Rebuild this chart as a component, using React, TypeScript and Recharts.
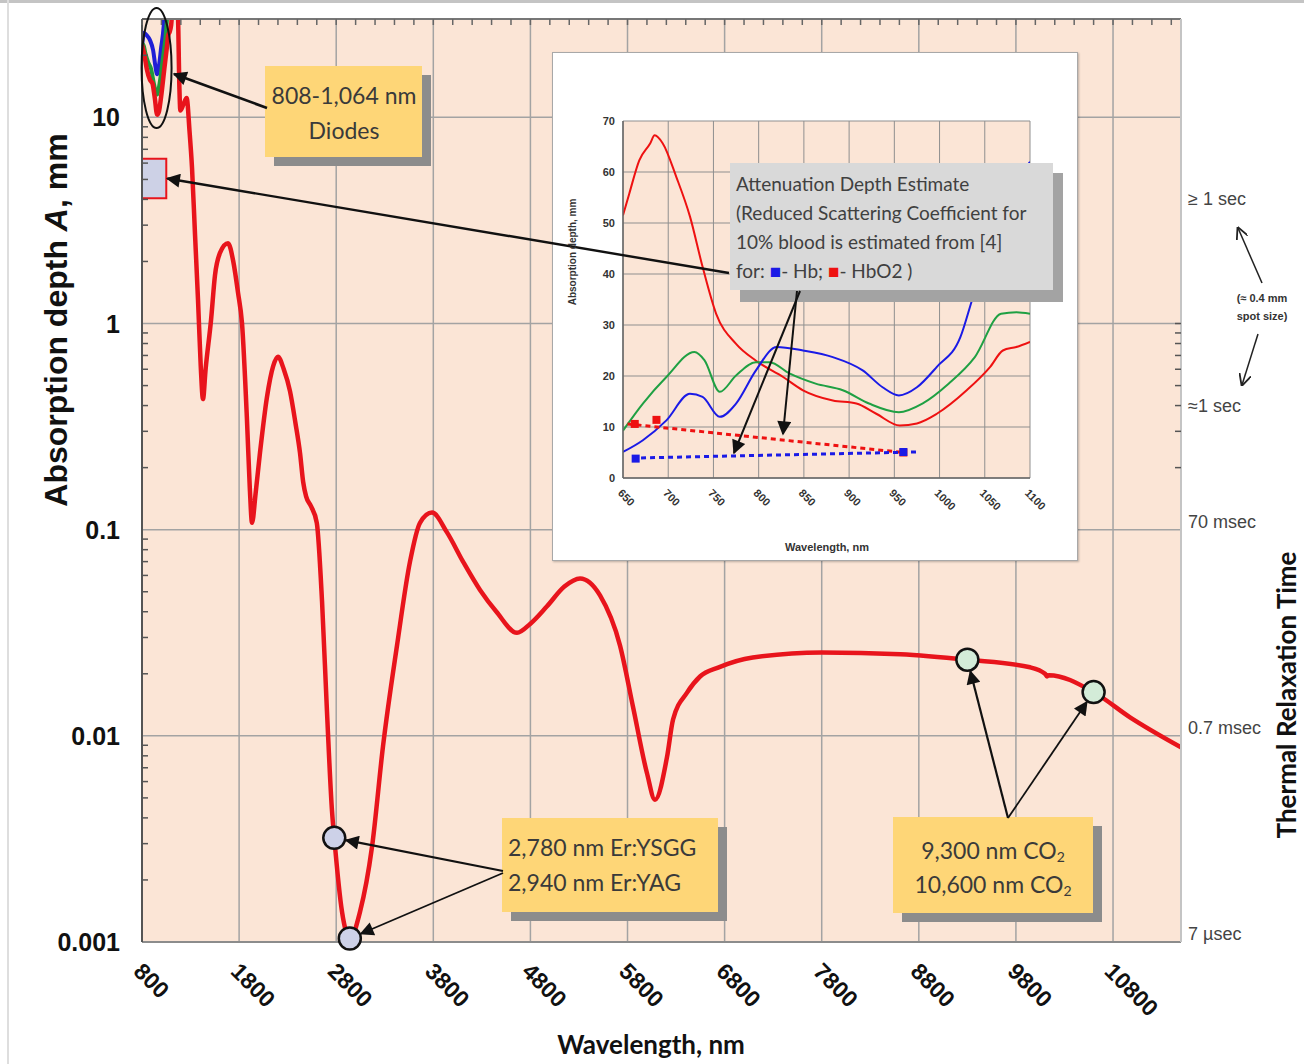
import React from "react";
import {
  ComposedChart,
  Line,
  Scatter,
  XAxis,
  YAxis,
  CartesianGrid,
  ReferenceDot,
  ReferenceArea,
  ReferenceLine,
} from "recharts";

// main curve: absorption depth (mm) against wavelength (nm)
const MAIN_NM = [
  800, 827, 849, 882, 908, 930, 956, 975, 997, 1030, 1056, 1070, 1085, 1100, 1125, 1150, 1170, 1185,
  1195, 1225, 1260, 1290, 1315, 1346, 1377, 1405, 1428, 1455, 1511, 1552, 1603, 1686, 1740, 1789,
  1830, 1880, 1910, 1933, 1970, 2015, 2087, 2150, 2200, 2260, 2324, 2380, 2427, 2460, 2490, 2540,
  2600, 2654, 2705, 2757, 2780, 2860, 2942, 3045, 3169, 3282, 3426, 3560, 3663, 3787, 3941, 4106,
  4281, 4450, 4662, 4800, 4971, 5150, 5311, 5517, 5723, 5857, 6000, 6083, 6207, 6269, 6413, 6547,
  6740, 7090, 7800, 8610, 9300, 9945, 10100, 10120, 10140, 10600, 10975, 11500,
];
const MAIN_MM = [
  22.5, 19.8, 17.2, 15.2, 14.6, 12.6, 10.3, 10.7, 12.6, 17.2, 21.8, 25, 26, 28, 40, 42, 32, 14,
  10.8, 11.5, 12.4, 8.5, 5.7, 2.7, 1.3, 0.62, 0.43, 0.6, 1.04, 1.72, 2.2, 2.45, 2.0, 1.41,
  1.0, 0.35, 0.16, 0.108, 0.15, 0.236, 0.44, 0.62, 0.69, 0.6, 0.47, 0.33, 0.236, 0.17, 0.145, 0.13,
  0.108, 0.045, 0.0131, 0.0043, 0.0032, 0.0014, 0.00104, 0.0014, 0.0029, 0.0089, 0.0274, 0.07, 0.108, 0.121, 0.097, 0.07,
  0.051, 0.04, 0.0316, 0.035, 0.0425, 0.053, 0.058, 0.048, 0.0274, 0.0138, 0.0066, 0.0049, 0.0079, 0.012, 0.0162, 0.0194,
  0.0215, 0.024, 0.0254, 0.0249, 0.0234, 0.0215, 0.02, 0.0194, 0.0197, 0.0163, 0.0123, 0.0088,
];

// inset curves (650-1100 nm)
const RED_NM = [650, 657, 668, 680, 685, 694, 709, 724, 738, 753, 775, 797, 827, 849, 882, 908, 930, 956, 975, 997, 1030, 1056, 1070, 1085, 1100];
const RED_MM = [51.5, 55.8, 62.3, 65.6, 67.2, 65.6, 59, 51.3, 41.4, 32.2, 26.3, 23, 19.8, 17.2, 15.2, 14.6, 12.6, 10.3, 10.7, 12.6, 17.2, 21.8, 25, 25.7, 26.7];
const GREEN_NM = [650, 672, 698, 729, 740, 757, 775, 797, 812, 834, 863, 893, 922, 955, 981, 1010, 1039, 1068, 1085, 1100];
const GREEN_MM = [9.3, 14.6, 19.8, 24.7, 23.1, 16.9, 20.1, 22.7, 22.7, 20.5, 18.5, 17.2, 14.6, 12.9, 14.6, 18.5, 23.7, 32.2, 32.5, 32.2];
const BLUE_NM = [650, 672, 698, 724, 738, 757, 775, 797, 820, 849, 882, 915, 937, 955, 975, 997, 1023, 1037, 1055, 1075, 1100];
const BLUE_MM = [5.1, 7.4, 11.3, 16.5, 15.9, 12, 14.6, 21.1, 25.7, 25, 23.7, 21.1, 17.8, 16.2, 17.8, 21.8, 27.6, 35.5, 45, 55, 62];

// attenuation depth estimates (dashed) and their markers
const HBO2_EST_NM = [655, 960];
const HBO2_EST_MM = [10.6, 5.0];
const HB_EST_NM = [660, 975];
const HB_EST_MM = [3.9, 5.1];
const HBO2_MARK_NM = [663, 687, 960];
const HBO2_MARK_MM = [10.6, 11.4, 5.0];
const HB_MARK_NM = [664, 960];
const HB_MARK_MM = [3.8, 5.1];

// laser lines marked on the main curve
const ER_NM = [2780, 2940];
const ER_MM = [0.0032, 0.00104];
const CO2_NM = [9300, 10600];
const CO2_MM = [0.0234, 0.0163];

// attenuation depth range box
const ATTEN_NM = [800, 1050];
const ATTEN_MM = [4.05, 6.3];

const X_TICKS = [800, 1800, 2800, 3800, 4800, 5800, 6800, 7800, 8800, 9800, 10800];
const Y_DECADES = [0.001, 0.01, 0.1, 1, 10];
const Y_LABELS = ["0.001", "0.01", "0.1", "1", "10"];
const RIGHT_TICKS = [4, 0.4, 0.1, 0.01, 0.001];
const RIGHT_LABELS = ["\u2265 1 sec", "\u22481 sec", "70 msec", "0.7 msec", "7 \u00b5sec"];
const RIGHT_MINOR = [0.2, 0.3, 0.4, 0.5, 0.6, 0.7, 0.8, 0.9, 1];

const INSET_X_TICKS = [650, 700, 750, 800, 850, 900, 950, 1000, 1050, 1100];
const INSET_Y_TICKS = [0, 10, 20, 30, 40, 50, 60, 70];

const Y_MINOR = Y_DECADES.flatMap((d) => [2, 3, 4, 5, 6, 7, 8, 9].map((k) => k * d)).filter((v) => v <= 30);
const TOP_MINOR = Array.from({ length: 54 }, (_, i) => 800 + i * 200);

const zip = (xs: number[], ys: number[]) => xs.map((x, i) => ({ x, y: ys[i] }));

const mainData = zip(MAIN_NM, MAIN_MM);
const redData = zip(RED_NM, RED_MM);
const greenData = zip(GREEN_NM, GREEN_MM);
const blueData = zip(BLUE_NM, BLUE_MM);

// main plot geometry
const W = 1304;
const H = 1064;
const P_LEFT = 142;
const P_RIGHT = 1181;
const P_TOP = 19;
const P_BOTTOM = 942;
const X_DOM = [800, 11500];
const Y_DOM = [0.001, 30];

const sx = (v: number) => P_LEFT + ((v - X_DOM[0]) / (X_DOM[1] - X_DOM[0])) * (P_RIGHT - P_LEFT);
const sy = (v: number) =>
  P_TOP + ((Math.log10(Y_DOM[1]) - Math.log10(v)) / (Math.log10(Y_DOM[1]) - Math.log10(Y_DOM[0]))) * (P_BOTTOM - P_TOP);

const PEACH = "#fbe5d6";
const RED = "#e8141c";
const BOLD_SANS = "'Liberation Sans', Arial, sans-serif";
const NOTE_FONT = "Lato, 'Open Sans', sans-serif";

const near = (a: number, b: number) => Math.abs(a - b) / b < 1e-6;
const isDecade = (v: number) => Math.abs(Math.log10(v) - Math.round(Math.log10(v))) < 1e-6;

const LeftTick = (props: any) => {
  const { x, y, payload } = props;
  const v = payload.value;
  const idx = Y_DECADES.findIndex((d) => near(v, d));
  return (
    <g>
      <line x1={x} x2={x + (isDecade(v) ? 0 : 6)} y1={y} y2={y} stroke="#555" strokeWidth={1.5} />
      {idx >= 0 && (
        <text x={x - 22} y={y} textAnchor="end" dominantBaseline="central" fontFamily={BOLD_SANS} fontWeight={700} fontSize={25} fill="#111">
          {Y_LABELS[idx]}
        </text>
      )}
    </g>
  );
};

const BottomTick = (props: any) => {
  const { x, y, payload } = props;
  return (
    <text transform={`translate(${x - 4},${y + 25}) rotate(45)`} textAnchor="start" dominantBaseline="central" fontFamily={BOLD_SANS} fontWeight={700} fontSize={23} fill="#111">
      {payload.value}
    </text>
  );
};

const TopTick = (props: any) => {
  const { x, y } = props;
  return <line x1={x} x2={x} y1={y} y2={y + 6} stroke="#666" strokeWidth={1.5} />;
};

const RightTick = (props: any) => {
  const { x, y, payload } = props;
  const v = payload.value;
  const idx = RIGHT_TICKS.findIndex((d) => near(v, d));
  const isMinor = RIGHT_MINOR.some((d) => near(v, d));
  const dy = v < 0.2 ? -8 : 0;
  return (
    <g>
      {isMinor && <line x1={x} x2={x - 6} y1={y} y2={y} stroke="#555" strokeWidth={1.5} />}
      {idx >= 0 && (
        <text x={x + 7} y={y + dy} textAnchor="start" dominantBaseline="central" fontFamily={BOLD_SANS} fontSize={18} fill="#444">
          {RIGHT_LABELS[idx]}
        </text>
      )}
    </g>
  );
};

const InsetXTick = (props: any) => {
  const { x, y, payload } = props;
  return (
    <text transform={`translate(${x - 3},${y + 13}) rotate(45)`} textAnchor="start" dominantBaseline="central" fontFamily={BOLD_SANS} fontWeight={700} fontSize={11} fill="#333">
      {payload.value}
    </text>
  );
};

const InsetYTick = (props: any) => {
  const { x, y, payload } = props;
  return (
    <text x={x - 8} y={y} textAnchor="end" dominantBaseline="central" fontFamily={BOLD_SANS} fontWeight={700} fontSize={11} fill="#333">
      {payload.value}
    </text>
  );
};

// arrow ending on the rim of a circle of radius r
const towards = (x0: number, y0: number, cx: number, cy: number, r: number) => {
  const dx = cx - x0;
  const dy = cy - y0;
  const len = Math.hypot(dx, dy);
  return { x: cx - (dx / len) * r, y: cy - (dy / len) * r };
};

const NoteBox = ({ x, y, w, h, children }: { x: number; y: number; w: number; h: number; children: React.ReactNode }) => (
  <g>
    <rect x={x + 9} y={y + 9} width={w} height={h} fill="#8c8c8c" />
    <rect x={x} y={y} width={w} height={h} fill="#fed677" />
    {children}
  </g>
);

const Arrow = ({ x1, y1, x2, y2, w = 2.2 }: { x1: number; y1: number; x2: number; y2: number; w?: number }) => (
  <line x1={x1} y1={y1} x2={x2} y2={y2} stroke="#111" strokeWidth={w} markerEnd="url(#head)" />
);

const Overlay = () => {
  const er1 = towards(503, 871, sx(ER_NM[0]), sy(ER_MM[0]), 12);
  const er2 = towards(503, 873, sx(ER_NM[1]), sy(ER_MM[1]), 12);
  const co1 = towards(1008, 818, sx(CO2_NM[0]), sy(CO2_MM[0]), 12);
  const co2 = towards(1008, 818, sx(CO2_NM[1]), sy(CO2_MM[1]), 12);
  const t = { fontFamily: NOTE_FONT, fontSize: 23, fill: "#3a3a3a" };
  const g = { fontFamily: NOTE_FONT, fontSize: 19, fill: "#404040" };
  return (
    <svg width={W} height={H} style={{ position: "absolute", left: 0, top: 0, pointerEvents: "none" }}>
      <defs>
        <marker id="head" viewBox="0 0 10 10" refX="9" refY="5" markerUnits="userSpaceOnUse" markerWidth="18" markerHeight="14" orient="auto">
          <path d="M0,0 L10,5 L0,10 z" fill="#111" />
        </marker>
        <marker id="open" viewBox="0 0 10 10" refX="9" refY="5" markerUnits="userSpaceOnUse" markerWidth="12" markerHeight="12" orient="auto">
          <path d="M0,0 L10,5 L0,10" fill="none" stroke="#222" strokeWidth={1.5} />
        </marker>
      </defs>

      {/* diode region */}
      <ellipse cx={sx(950)} cy={68} rx={15} ry={60} fill="none" stroke="#111" strokeWidth={2} />
      <NoteBox x={265} y={66} w={157} h={91}>
        <text x={344} y={95} textAnchor="middle" dominantBaseline="central" {...t}>808-1,064 nm</text>
        <text x={344} y={130} textAnchor="middle" dominantBaseline="central" {...t}>Diodes</text>
      </NoteBox>
      <Arrow x1={267} y1={108} x2={174} y2={74} w={2.6} />

      {/* erbium lasers */}
      <NoteBox x={502} y={818} w={216} h={94}>
        <text x={508} y={847} dominantBaseline="central" {...t}>2,780 nm Er:YSGG</text>
        <text x={508} y={882} dominantBaseline="central" {...t}>2,940 nm Er:YAG</text>
      </NoteBox>
      <Arrow x1={503} y1={871} x2={er1.x} y2={er1.y} />
      <Arrow x1={503} y1={873} x2={er2.x} y2={er2.y} w={1.8} />

      {/* CO2 lasers */}
      <NoteBox x={893} y={817} w={200} h={96}>
        <text x={993} y={850} textAnchor="middle" dominantBaseline="central" {...t}>
          9,300 nm CO<tspan fontSize={14} dy={6}>2</tspan>
        </text>
        <text x={993} y={884} textAnchor="middle" dominantBaseline="central" {...t}>
          10,600 nm CO<tspan fontSize={14} dy={6}>2</tspan>
        </text>
      </NoteBox>
      <Arrow x1={1008} y1={818} x2={co1.x} y2={co1.y} />
      <Arrow x1={1008} y1={818} x2={co2.x} y2={co2.y} w={1.8} />

      {/* inset annotation */}
      <rect x={740} y={173} width={323} height={129} fill="#a3a3a3" />
      <rect x={730} y={163} width={323} height={127} fill="#d9d9d9" />
      {[
        "Attenuation Depth Estimate",
        "(Reduced Scattering Coefficient for",
        "10% blood is estimated from [4]",
      ].map((s, i) => (
        <text key={i} x={736} y={183 + i * 29} dominantBaseline="central" {...g}>
          {s}
        </text>
      ))}
      <text x={736} y={270} dominantBaseline="central" {...g}>
        for: <tspan fill="#1a1ae6">{"\u25a0"}</tspan>- Hb; <tspan fill="#ee1111">{"\u25a0"}</tspan>- HbO2 )
      </text>
      <Arrow x1={729} y1={273} x2={sx(ATTEN_NM[1]) + 1} y2={sy(5.05)} w={2.4} />
      <Arrow x1={800} y1={291} x2={734} y2={453} w={2} />
      <Arrow x1={797} y1={291} x2={783} y2={434} w={2} />

      {/* inset axis titles */}
      <text transform="translate(576,252) rotate(-90)" textAnchor="middle" fontFamily={BOLD_SANS} fontWeight={700} fontSize={10} fill="#333">
        Absorption depth, mm
      </text>
      <text x={827} y={551} textAnchor="middle" fontFamily={BOLD_SANS} fontWeight={700} fontSize={11} fill="#333">
        Wavelength, nm
      </text>

      {/* main axis titles */}
      <text transform="translate(67,320) rotate(-90)" textAnchor="middle" fontFamily={BOLD_SANS} fontWeight={700} fontSize={32} fill="#111">
        Absorption depth <tspan fontStyle="italic">A</tspan>, mm
      </text>
      <text x={651} y={1054} textAnchor="middle" fontFamily={NOTE_FONT} fontWeight={700} fontSize={26} fill="#111">
        Wavelength, nm
      </text>
      <text transform="translate(1296,695) rotate(-90)" textAnchor="middle" fontFamily={NOTE_FONT} fontWeight={700} fontSize={26} fill="#111">
        Thermal Relaxation Time
      </text>

      {/* spot size note */}
      <text x={1262} y={298} textAnchor="middle" dominantBaseline="central" fontFamily={BOLD_SANS} fontWeight={700} fontSize={11} fill="#333">
        (≈ 0.4 mm
      </text>
      <text x={1262} y={316} textAnchor="middle" dominantBaseline="central" fontFamily={BOLD_SANS} fontWeight={700} fontSize={11} fill="#333">
        spot size)
      </text>
      <line x1={1262} y1={283} x2={1238} y2={228} stroke="#222" strokeWidth={1.5} markerEnd="url(#open)" />
      <line x1={1258} y1={334} x2={1242} y2={385} stroke="#222" strokeWidth={1.5} markerEnd="url(#open)" />
    </svg>
  );
};

const Inset = () => (
  <div
    style={{
      position: "absolute",
      left: 552,
      top: 52,
      width: 524,
      height: 507,
      border: "1px solid #a8a8a8",
      background: "#fff",
      boxShadow: "1px 1px 2px rgba(0,0,0,0.25)",
    }}
  >
    <ComposedChart width={524} height={507} margin={{ top: 68, right: 47, left: 0, bottom: 0 }}>
      <CartesianGrid stroke="#8f8f8f" strokeWidth={1} fill={PEACH} fillOpacity={1} verticalValues={INSET_X_TICKS} horizontalValues={INSET_Y_TICKS} />
      <XAxis
        dataKey="x"
        type="number"
        domain={[650, 1100]}
        ticks={INSET_X_TICKS}
        interval={0}
        height={82}
        tickLine={false}
        tickSize={0}
        tickMargin={0}
        tick={<InsetXTick />}
        axisLine={{ stroke: "#666", strokeWidth: 1.5 }}
        allowDataOverflow
      />
      <YAxis
        type="number"
        domain={[0, 70]}
        ticks={INSET_Y_TICKS}
        interval={0}
        width={70}
        tickLine={false}
        tickSize={0}
        tickMargin={0}
        tick={<InsetYTick />}
        axisLine={{ stroke: "#666", strokeWidth: 1.5 }}
        allowDataOverflow
      />
      <Line data={redData} dataKey="y" type="monotone" stroke="#ee1111" strokeWidth={2} dot={false} isAnimationActive={false} />
      <Line data={greenData} dataKey="y" type="monotone" stroke="#1fa043" strokeWidth={2} dot={false} isAnimationActive={false} />
      <Line data={blueData} dataKey="y" type="monotone" stroke="#1a1ae6" strokeWidth={2} dot={false} isAnimationActive={false} />
      <Line data={zip(HBO2_EST_NM, HBO2_EST_MM)} dataKey="y" type="linear" stroke="#ee1111" strokeWidth={3} strokeDasharray="5 4" dot={false} isAnimationActive={false} />
      <Line data={zip(HB_EST_NM, HB_EST_MM)} dataKey="y" type="linear" stroke="#1a1ae6" strokeWidth={3} strokeDasharray="5 4" dot={false} isAnimationActive={false} />
      <Scatter data={zip(HBO2_MARK_NM, HBO2_MARK_MM)} dataKey="y" shape="square" fill="#ee1111" isAnimationActive={false} />
      <Scatter data={zip(HB_MARK_NM, HB_MARK_MM)} dataKey="y" shape="square" fill="#1a1ae6" isAnimationActive={false} />
    </ComposedChart>
  </div>
);

export default function App() {
  return (
    <div style={{ position: "absolute", left: 0, top: 0, width: W, height: H, background: "#fff", overflow: "hidden" }}>
      <div style={{ position: "absolute", left: 0, top: 0, width: W, height: 3, background: "#c4c4c4" }} />
      <div style={{ position: "absolute", left: 7, top: 0, width: 2, height: H, background: "#dedede" }} />
      <ComposedChart width={W} height={H} margin={{ top: 0, right: 0, left: 0, bottom: 0 }} style={{ position: "absolute", left: 0, top: 0 }}>
        <CartesianGrid
          xAxisId="b"
          yAxisId="l"
          stroke="#a3a3a3"
          strokeWidth={1.5}
          fill={PEACH}
          fillOpacity={1}
          verticalValues={X_TICKS}
          horizontalValues={Y_DECADES}
        />
        <XAxis
          xAxisId="b"
          dataKey="x"
          type="number"
          domain={X_DOM}
          ticks={X_TICKS}
          interval={0}
          height={H - P_BOTTOM}
          tickLine={false}
          tickSize={0}
          tickMargin={0}
          tick={<BottomTick />}
          axisLine={{ stroke: "#8c8c8c", strokeWidth: 2 }}
          allowDataOverflow
        />
        <XAxis
          xAxisId="t"
          dataKey="x"
          type="number"
          orientation="top"
          domain={X_DOM}
          ticks={TOP_MINOR}
          interval={0}
          height={P_TOP}
          tickLine={false}
          tickSize={0}
          tickMargin={0}
          tick={<TopTick />}
          axisLine={{ stroke: "#777", strokeWidth: 2 }}
          allowDataOverflow
        />
        <YAxis
          yAxisId="l"
          scale="log"
          type="number"
          domain={Y_DOM}
          ticks={[...Y_DECADES, ...Y_MINOR]}
          interval={0}
          width={P_LEFT}
          tickLine={false}
          tickSize={0}
          tickMargin={0}
          tick={<LeftTick />}
          axisLine={{ stroke: "#555", strokeWidth: 2 }}
          allowDataOverflow
        />
        <YAxis
          yAxisId="r"
          orientation="right"
          scale="log"
          type="number"
          domain={Y_DOM}
          ticks={[...RIGHT_TICKS, ...RIGHT_MINOR.filter((v) => v !== 0.4)]}
          interval={0}
          width={W - P_RIGHT}
          tickLine={false}
          tickSize={0}
          tickMargin={0}
          tick={<RightTick />}
          axisLine={{ stroke: "#c4c4c4", strokeWidth: 2 }}
          allowDataOverflow
        />
        <ReferenceLine
          xAxisId="b"
          yAxisId="l"
          segment={[
            { x: X_DOM[1], y: 1 },
            { x: X_DOM[1], y: 0.1 },
          ]}
          stroke="#555"
          strokeWidth={2}
          ifOverflow="visible"
        />
        <ReferenceArea
          xAxisId="b"
          yAxisId="l"
          x1={ATTEN_NM[0]}
          x2={ATTEN_NM[1]}
          y1={ATTEN_MM[0]}
          y2={ATTEN_MM[1]}
          fill="#cdd1e6"
          fillOpacity={1}
          stroke={RED}
          strokeWidth={2}
          ifOverflow="visible"
        />
        <Line xAxisId="b" yAxisId="l" data={blueData} dataKey="y" type="monotone" stroke="#1f1fd6" strokeWidth={4} dot={false} isAnimationActive={false} />
        <Line xAxisId="b" yAxisId="l" data={greenData} dataKey="y" type="monotone" stroke="#1e9a3c" strokeWidth={4} dot={false} isAnimationActive={false} />
        <Line xAxisId="b" yAxisId="l" data={mainData} dataKey="y" type="monotone" stroke={RED} strokeWidth={4.5} dot={false} isAnimationActive={false} />
        {ER_NM.map((x, i) => (
          <ReferenceDot key={"er" + i} xAxisId="b" yAxisId="l" x={x} y={ER_MM[i]} r={11} fill="#cdd1e8" stroke="#111" strokeWidth={2.5} ifOverflow="visible" />
        ))}
        {CO2_NM.map((x, i) => (
          <ReferenceDot key={"co" + i} xAxisId="b" yAxisId="l" x={x} y={CO2_MM[i]} r={11} fill="#d3ecd8" stroke="#111" strokeWidth={2.5} ifOverflow="visible" />
        ))}
      </ComposedChart>
      <Inset />
      <Overlay />
    </div>
  );
}
